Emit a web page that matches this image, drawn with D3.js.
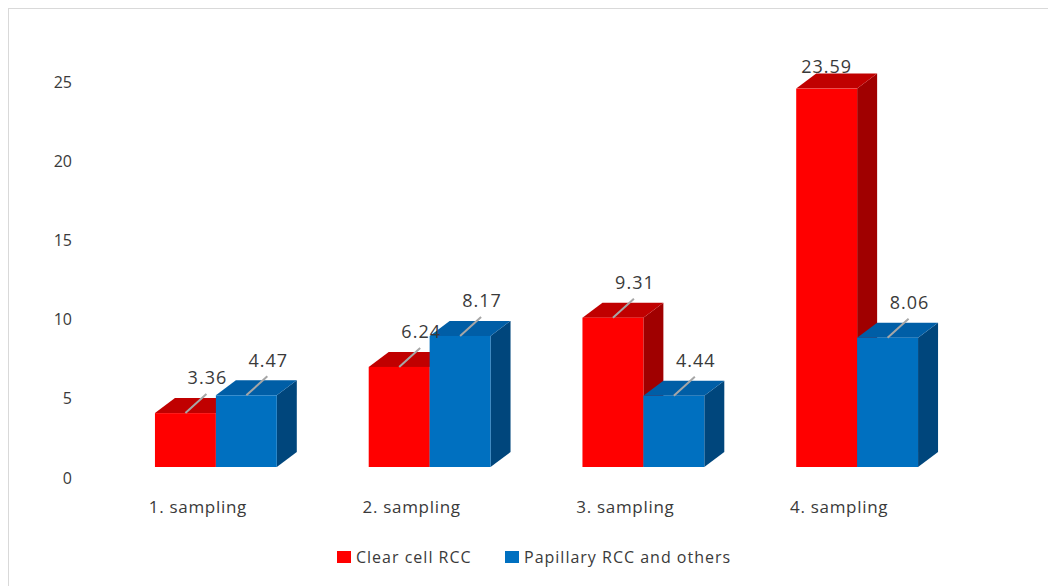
<!DOCTYPE html>
<html><head><meta charset="utf-8">
<script src="https://cdn.jsdelivr.net/npm/d3@7"></script>
<style>
html,body{margin:0;padding:0;background:#fff;}
svg{display:block;font-family:"Open Sans",sans-serif;}
</style></head>
<body>
<script>
const categories = ["1. sampling","2. sampling","3. sampling","4. sampling"];
const seriesNames = ["Clear cell RCC","Papillary RCC and others"];
const clearCell = [3.36, 6.24, 9.31, 23.59];
const papillary = [4.47, 8.17, 4.44, 8.06];
const yTicks = [0,5,10,15,20,25];
const frontColors = ["#ff0000","#0070c0"];
const topColors = ["#c00000","#005ea6"];
const sideColors = ["#a00000","#00467c"];

const W=1048,H=586;
const svg=d3.select("body").append("svg").attr("width",W).attr("height",H);
svg.append("rect").attr("x",8.5).attr("y",8.5).attr("width",W).attr("height",H)
  .attr("fill","#fff").attr("stroke","#d9d9d9");

const x=d3.scaleBand().domain(categories).range([109,964]).paddingInner(0.43).paddingOuter(0.215);
const xs=d3.scaleBand().domain(seriesNames).range([0,x.bandwidth()]);
const yFront=d3.scaleLinear().domain([0,25]).range([467,66]);
const yAxisScale=d3.scaleLinear().domain([0,25]).range([478,82]);
const DX=20, DY=15;
const textCol="#3a3a3a";

const ax=svg.append("g").attr("transform","translate(80,0)")
  .call(d3.axisLeft(yAxisScale).tickValues(yTicks).tickSize(0).tickPadding(8));
ax.select(".domain").remove();
ax.selectAll("text").attr("font-family","Open Sans").attr("font-size",16).attr("fill",textCol);

const data=[];
categories.forEach((c,i)=>{
  [clearCell[i],papillary[i]].forEach((v,s)=>data.push({c,s,v,name:seriesNames[s]}));
});

const gBars=svg.append("g");
data.forEach(d=>{
  const x0=x(d.c)+xs(d.name), w=xs.bandwidth();
  const y0=yFront(0), yt=yFront(d.v);
  const g=gBars.append("g");
  g.append("polygon").attr("points",[[x0+w,y0],[x0+w+DX,y0-DY],[x0+w+DX,yt-DY],[x0+w,yt]].join(" "))
    .attr("fill",sideColors[d.s]);
  g.append("polygon").attr("points",[[x0,yt],[x0+DX,yt-DY],[x0+w+DX,yt-DY],[x0+w,yt]].join(" "))
    .attr("fill",topColors[d.s]);
  g.append("rect").attr("x",x0).attr("y",yt).attr("width",w).attr("height",y0-yt)
    .attr("fill",frontColors[d.s]);
});

const maxV=d3.max(data,d=>d.v);
data.forEach(d=>{
  const cx=x(d.c)+xs(d.name)+xs.bandwidth()/2;
  const yt=yFront(d.v);
  const t=svg.append("text").attr("dy","0.35em").attr("text-anchor","middle")
    .attr("font-size",18).attr("letter-spacing",1).attr("fill",textCol).text(d.v.toFixed(2));
  if(d.v===maxV){
    t.attr("x",cx).attr("y",yt-22);
  } else {
    svg.append("line").attr("x1",cx).attr("y1",yt).attr("x2",cx+21).attr("y2",yt-19)
      .attr("stroke","#a6a6a6").attr("stroke-width",2);
    t.attr("x",cx+22).attr("y",yt-35);
  }
});

svg.append("g").selectAll("text").data(categories).join("text")
  .attr("x",d=>x(d)+x.bandwidth()/2-18).attr("y",507).attr("dy","0.35em")
  .attr("text-anchor","middle").attr("font-size",17).attr("letter-spacing",0.7)
  .attr("fill",textCol).text(d=>d);

const leg=svg.append("g");
const legX=[337,505];
seriesNames.forEach((n,i)=>{
  leg.append("rect").attr("x",legX[i]).attr("y",551).attr("width",14).attr("height",12).attr("fill",frontColors[i]);
  leg.append("text").attr("x",legX[i]+19).attr("y",557).attr("dy","0.35em")
    .attr("font-size",16).attr("letter-spacing",1).attr("fill",textCol).text(n);
});
</script>
</body></html>
